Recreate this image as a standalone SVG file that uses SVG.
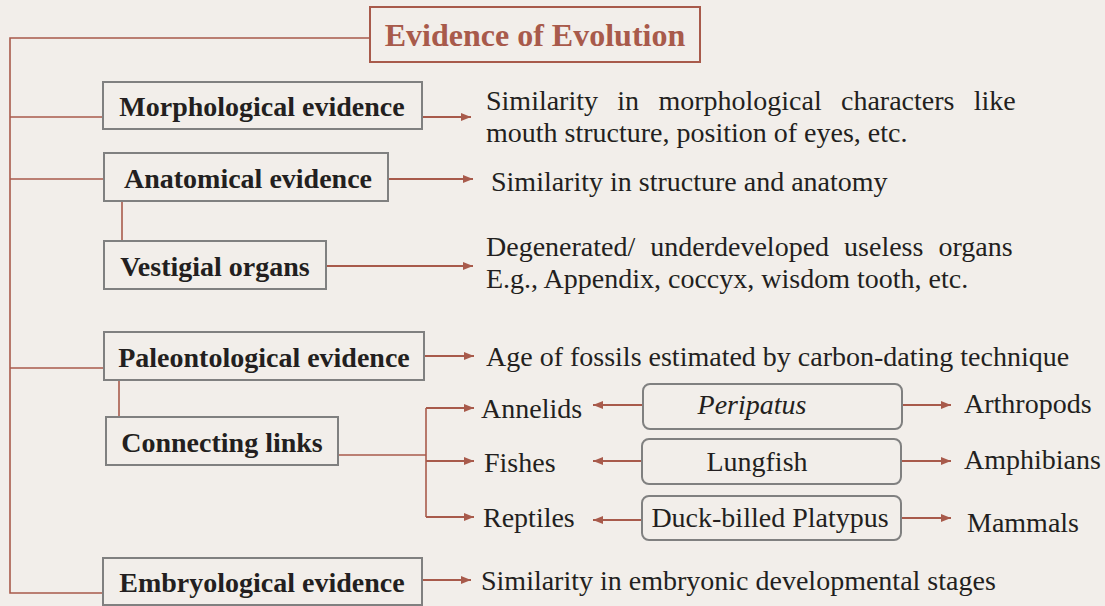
<svg xmlns="http://www.w3.org/2000/svg" width="1105" height="606" viewBox="0 0 1105 606">
<defs>
<marker id="ah" viewBox="0 0 10 10" refX="10" refY="5" markerWidth="10" markerHeight="10" markerUnits="userSpaceOnUse" orient="auto">
<path d="M0,1 L10,5 L0,9 Z" fill="#a85a4b"/>
</marker>
<style>
.bg{fill:#f2eeea}
.box{fill:none;stroke:#808080;stroke-width:2}
.tbox{fill:none;stroke:#a85a4b;stroke-width:2}
.ln{fill:none;stroke:#a85a4b;stroke-width:1.6}
.ar{fill:none;stroke:#a85a4b;stroke-width:2.2;marker-end:url(#ah)}
</style>
</defs>
<rect class="bg" x="0" y="0" width="1105" height="606"/>

<g id="connectors">
<path class="ln" d="M370,38 H10 V593 H103"/>
<path class="ln" d="M10,117 H102"/>
<path class="ln" d="M10,179 H104"/>
<path class="ln" d="M10,368 H104"/>
<path class="ln" d="M122,201 V241"/>
<path class="ln" d="M119,380 V417"/>
<path class="ln" d="M338,455 H426"/>
<path class="ln" d="M426,408 V517"/>
<path class="ar" d="M422,117 H471"/>
<path class="ar" d="M388,179 H473"/>
<path class="ar" d="M326,266 H473"/>
<path class="ar" d="M424,356 H474"/>
<path class="ar" d="M426,408 H474"/>
<path class="ar" d="M426,461 H474"/>
<path class="ar" d="M426,517 H474"/>
<path class="ar" d="M422,580 H471"/>
<path class="ar" d="M643,405 H593"/>
<path class="ar" d="M642,461 H593"/>
<path class="ar" d="M642,520 H593"/>
<path class="ar" d="M902,405 H951"/>
<path class="ar" d="M901,461 H951"/>
<path class="ar" d="M901,518 H951"/>
</g>

<g id="title">
<rect class="tbox" x="370" y="7" width="330" height="55"/>
<text x="535" y="46" font-family="Liberation Serif" font-size="32" font-weight="bold" fill="#a85a4b" text-anchor="middle">Evidence of Evolution</text>
</g>

<g font-family="Liberation Serif" font-size="28" fill="#231f20">
<g id="morphological">
<rect class="box" x="103" y="82" width="319" height="47"/>
<text x="262" y="116" font-weight="bold" text-anchor="middle">Morphological evidence</text>
</g>
<g id="morphological-desc">
<text x="486" y="110" word-spacing="12.3">Similarity in morphological characters like</text>
<text x="486" y="142">mouth structure, position of eyes, etc.</text>
</g>

<g id="anatomical">
<rect class="box" x="104" y="153" width="284" height="48"/>
<text x="248" y="188" font-weight="bold" text-anchor="middle">Anatomical evidence</text>
</g>
<g id="anatomical-desc">
<text x="491" y="191">Similarity in structure and anatomy</text>
</g>

<g id="vestigial">
<rect class="box" x="104" y="241" width="222" height="48"/>
<text x="215" y="276" font-weight="bold" text-anchor="middle">Vestigial organs</text>
</g>
<g id="vestigial-desc">
<text x="486" y="256" word-spacing="8">Degenerated/ underdeveloped useless organs</text>
<text x="486" y="288">E.g., Appendix, coccyx, wisdom tooth, etc.</text>
</g>

<g id="paleontological">
<rect class="box" x="104" y="332" width="320" height="48"/>
<text x="264" y="367" font-weight="bold" text-anchor="middle">Paleontological evidence</text>
</g>
<g id="paleontological-desc">
<text x="486" y="366">Age of fossils estimated by carbon-dating technique</text>
</g>

<g id="connecting">
<rect class="box" x="106" y="417" width="232" height="48"/>
<text x="222" y="452" font-weight="bold" text-anchor="middle">Connecting links</text>
</g>

<g id="annelids"><text x="481" y="418">Annelids</text></g>
<g id="fishes"><text x="484" y="472">Fishes</text></g>
<g id="reptiles"><text x="483" y="527">Reptiles</text></g>

<g id="peripatus">
<rect class="box" x="643" y="384" width="259" height="45" rx="7"/>
<text x="752" y="414" text-anchor="middle" font-style="italic">Peripatus</text>
</g>
<g id="lungfish">
<rect class="box" x="642" y="439" width="259" height="45" rx="7"/>
<text x="757" y="471" text-anchor="middle">Lungfish</text>
</g>
<g id="platypus">
<rect class="box" x="642" y="496" width="259" height="44" rx="7"/>
<text x="770" y="527" text-anchor="middle">Duck-billed Platypus</text>
</g>

<g id="arthropods"><text x="964" y="413">Arthropods</text></g>
<g id="amphibians"><text x="964" y="469">Amphibians</text></g>
<g id="mammals"><text x="967" y="532">Mammals</text></g>

<g id="embryological">
<rect class="box" x="103" y="558" width="319" height="47"/>
<text x="262" y="592" font-weight="bold" text-anchor="middle">Embryological evidence</text>
</g>
<g id="embryological-desc">
<text x="481" y="590">Similarity in embryonic developmental stages</text>
</g>
</g>
</svg>
